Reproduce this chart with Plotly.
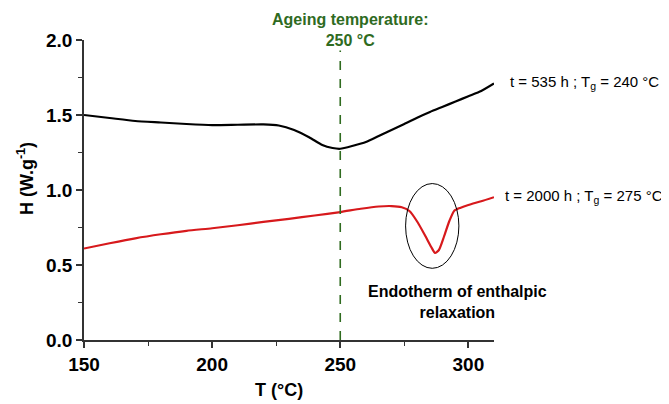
import plotly.graph_objects as go

# Black curve: t = 535 h
T_black = [150, 160, 170, 180, 190, 200, 210, 220, 226, 232, 238, 243, 247, 250,
           255, 260, 265, 270, 275, 280, 285, 290, 295, 300, 305, 310]
H_black = [1.50, 1.48, 1.46, 1.45, 1.44, 1.433, 1.435, 1.437, 1.43, 1.40, 1.35, 1.30, 1.28, 1.275,
           1.295, 1.32, 1.36, 1.40, 1.44, 1.482, 1.52, 1.555, 1.59, 1.625, 1.66, 1.71]

# Red curve: t = 2000 h
T_red = [150, 160, 170, 180, 190, 200, 210, 220, 230, 240, 250, 258, 265, 270, 274, 277,
         280, 283, 285.5, 287, 288.5, 290.5, 292.5, 294.5, 297, 300, 305, 310]
H_red = [0.61, 0.645, 0.678, 0.705, 0.728, 0.745, 0.765, 0.787, 0.808, 0.83, 0.853, 0.875, 0.89, 0.893, 0.885, 0.86,
         0.79, 0.70, 0.62, 0.58, 0.60, 0.69, 0.79, 0.862, 0.882, 0.9, 0.925, 0.952]

ageing_T = 250
ellipse_x = [275.5, 296.3]
ellipse_y = [0.478, 1.043]

FONT = "Liberation Sans, Arial, sans-serif"
GREEN = "#2f6b1f"

fig = go.Figure()
fig.add_trace(go.Scatter(x=T_black, y=H_black, mode="lines",
                         line=dict(color="black", width=2.2, shape="spline", smoothing=0.6), showlegend=False))
fig.add_trace(go.Scatter(x=T_red, y=H_red, mode="lines",
                         line=dict(color="#d7191c", width=2.2, shape="spline", smoothing=0.6), showlegend=False))

fig.add_shape(type="line", x0=ageing_T, x1=ageing_T, y0=0, y1=1.93, xref="x", yref="y",
              line=dict(color=GREEN, width=1.6, dash="dash"))
fig.add_shape(type="circle", x0=ellipse_x[0], x1=ellipse_x[1], y0=ellipse_y[0], y1=ellipse_y[1],
              xref="x", yref="y", line=dict(color="black", width=1))

fig.add_annotation(x=0.649, y=0.965, xref="paper", yref="paper", xanchor="center", yanchor="bottom", showarrow=False,
                   text="Ageing temperature:<br>250 °C", font=dict(family=FONT, size=16, color=GREEN, weight="bold"))
fig.add_annotation(x=1.034, y=0.857, xref="paper", yref="paper", xanchor="left", yanchor="middle", showarrow=False,
                   text="t = 535 h ; T<sub>g</sub> = 240 °C", font=dict(family=FONT, size=15, color="black"))
fig.add_annotation(x=1.022, y=0.48, xref="paper", yref="paper", xanchor="left", yanchor="middle", showarrow=False,
                   text="t = 2000 h ; T<sub>g</sub> = 275 °C", font=dict(family=FONT, size=15, color="black"))
fig.add_annotation(x=0.91, y=0.127, xref="paper", yref="paper", xanchor="center", yanchor="middle", showarrow=False,
                   text="Endotherm of enthalpic<br>relaxation", font=dict(family=FONT, size=16, color="black", weight="bold"))
fig.add_annotation(x=0.476, y=-0.167, xref="paper", yref="paper", xanchor="center", yanchor="middle", showarrow=False,
                   text="T (°C)", font=dict(family=FONT, size=18, color="black", weight="bold"))
fig.add_annotation(x=-0.141, y=0.537, xref="paper", yref="paper", xanchor="center", yanchor="middle",
                   textangle=-90, showarrow=False,
                   text="H (W.g<sup>-1</sup>)", font=dict(family=FONT, size=18, color="black", weight="bold"))

axis_common = dict(showline=True, linecolor="#333333", linewidth=1.5, ticks="outside", ticklen=6,
                   tickwidth=1.5, tickcolor="#333333", showgrid=False, zeroline=False,
                   tickfont=dict(family=FONT, size=19, color="black", weight="bold"))
fig.update_xaxes(range=[150, 310], dtick=50, tick0=150,
                 minor=dict(dtick=25, ticks="outside", ticklen=4, tickcolor="#333333", tickwidth=1.2),
                 **axis_common)
fig.update_yaxes(range=[0, 2.0], dtick=0.5, tickformat=".1f",
                 minor=dict(dtick=0.25, ticks="outside", ticklen=4, tickcolor="#333333", tickwidth=1.2),
                 **axis_common)

fig.update_layout(width=669, height=404, margin=dict(l=76, r=183, t=32, b=72),
                  plot_bgcolor="white", paper_bgcolor="white", showlegend=False)

fig.write_html("out.html")
